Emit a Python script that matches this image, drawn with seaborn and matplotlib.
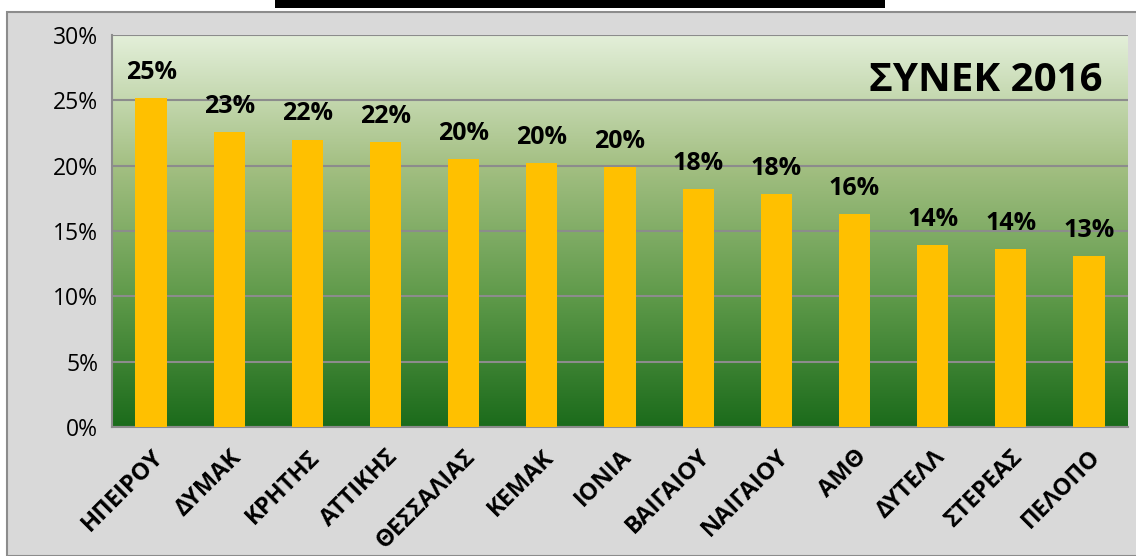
import numpy as np
import matplotlib.pyplot as plt
import seaborn as sns
from matplotlib.colors import LinearSegmentedColormap
from matplotlib.patches import Rectangle

# data
regions = ["ΗΠΕΙΡΟΥ", "ΔΥΜΑΚ", "ΚΡΗΤΗΣ", "ΑΤΤΙΚΗΣ", "ΘΕΣΣΑΛΙΑΣ", "ΚΕΜΑΚ", "ΙΟΝΙΑ",
           "ΒΑΙΓΑΙΟΥ", "ΝΑΙΓΑΙΟΥ", "ΑΜΘ", "ΔΥΤΕΛΛ", "ΣΤΕΡΕΑΣ", "ΠΕΛΟΠΟ"]
values = [25.2, 22.6, 22.0, 21.8, 20.5, 20.2, 19.9, 18.2, 17.8, 16.3, 13.9, 13.6, 13.1]
chart_label = "ΣΥΝΕΚ 2016"

sns.set_style("white")
plt.rcParams["font.family"] = ["Open Sans", "DejaVu Sans"]
plt.rcParams["text.color"] = "black"
plt.rcParams["xtick.color"] = "black"
plt.rcParams["ytick.color"] = "black"

fig = plt.figure(figsize=(11.36, 5.56), dpi=100)
fig.patch.set_facecolor("white")

# grey chart background with left border, and the cut-off title underline at top
fig.add_artist(Rectangle((7 / 1136, 0), 1.0, (556 - 12) / 556, transform=fig.transFigure,
                         facecolor="#d9d9d9", edgecolor="#8c8c8c", linewidth=1.5, zorder=0))
fig.add_artist(Rectangle((275 / 1136, (556 - 8) / 556), 610 / 1136, 8 / 556,
                         transform=fig.transFigure, facecolor="black", edgecolor="none"))

ax = fig.add_axes([112 / 1136, (556 - 427) / 556, (1128 - 112) / 1136, (427 - 35) / 556])
ax.set_facecolor("none")

# gradient fill of the plot area
cmap = LinearSegmentedColormap.from_list("grn", ["#1b6b1b", "#5f9a4a", "#a3bf82", "#e3efd9"])
grad = np.linspace(0, 1, 256).reshape(-1, 1)
ax.imshow(grad, aspect="auto", cmap=cmap, origin="lower",
          extent=[-0.5, len(regions) - 0.5, 0, 30], zorder=0)

sns.barplot(x=regions, y=values, color="#ffc000", width=0.4, saturation=1,
            linewidth=0, ax=ax, zorder=3)

ax.set_xlim(-0.5, len(regions) - 0.5)
ax.set_ylim(0, 30)
ax.set_yticks(range(0, 31, 5))
ax.set_yticklabels([f"{t}%" for t in range(0, 31, 5)], fontsize=16.5)
ax.yaxis.grid(True, color="#8c8c8c", linewidth=1.5)
for gl in ax.get_ygridlines():
    gl.set_zorder(1)

# value labels
for i, v in enumerate(values):
    ax.text(i, v + 1.0, f"{v:.0f}%", ha="center", va="bottom", fontsize=18,
            fontweight="bold", zorder=4)

ax.text(0.975, 0.885, chart_label, transform=ax.transAxes, ha="right", va="center",
        fontsize=29, fontweight="bold", zorder=4)

# category labels with tick marks between categories (excel style)
ax.set_xticks(range(len(regions)))
ax.set_xticklabels(regions, rotation=45, ha="right", rotation_mode="anchor",
                   fontsize=17, fontweight="bold")
ax.tick_params(axis="x", which="major", length=0, pad=13)
ax.set_xticks(np.arange(-0.5, len(regions), 1), minor=True)
ax.tick_params(axis="x", which="minor", length=6, width=1.5, color="#8c8c8c", direction="out")
ax.tick_params(axis="y", length=6, width=1.5, color="#8c8c8c", labelcolor="black",
               direction="out", pad=4)
ax.set_xlabel("")
ax.set_ylabel("")

for side in ["top", "right"]:
    ax.spines[side].set_visible(False)
for side in ["left", "bottom"]:
    ax.spines[side].set_color("#8c8c8c")
    ax.spines[side].set_linewidth(1.5)

fig.savefig("out.png", dpi=100, facecolor=fig.get_facecolor())
